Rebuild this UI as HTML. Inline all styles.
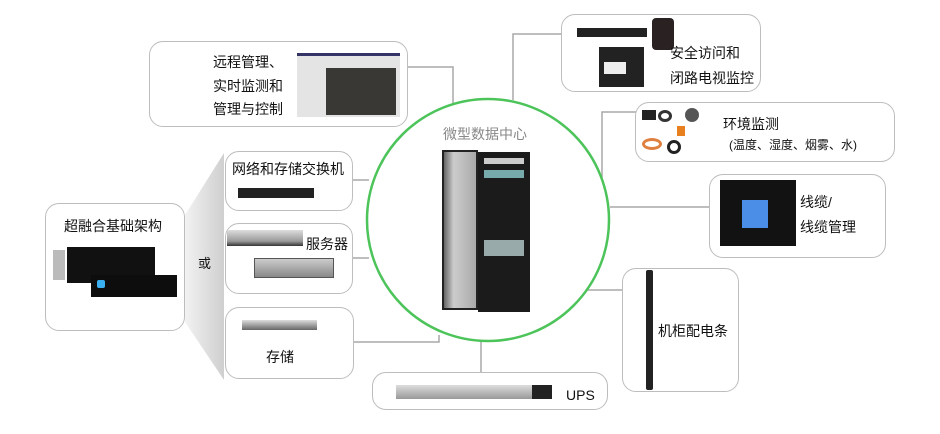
<!DOCTYPE html>
<html><head><meta charset="utf-8"><style>
*{margin:0;padding:0;box-sizing:border-box}
body{width:940px;height:434px;background:#fff;position:relative;overflow:hidden;font-family:"Liberation Sans","Noto Sans CJK SC",sans-serif;color:#111}
.b{position:absolute;border:1.5px solid #bdbdbd;border-radius:14px;background:#fff}
.t{position:absolute;font-size:14px;white-space:nowrap;line-height:1}
.d{position:absolute}
</style></head><body>
<svg width="940" height="434" style="position:absolute;left:0;top:0">
<defs><linearGradient id="g" x1="0" x2="1"><stop offset="0" stop-color="#f2f2f2"/><stop offset="1" stop-color="#cfcfcf"/></linearGradient></defs>
<polygon points="185,215 224,153 224,380 185,322" fill="url(#g)"/>
<g stroke="#a8a8a8" stroke-width="1.5" fill="none">
<polyline points="408,67 453,67 453,104"/>
<polyline points="561,34 513,34 513,100"/>
<polyline points="636,112 602,112 602,178"/>
<line x1="610" y1="207" x2="709" y2="207"/>
<line x1="585" y1="290" x2="622" y2="290"/>
<line x1="481" y1="340" x2="481" y2="372"/>
<line x1="353" y1="180" x2="369" y2="180"/>
<line x1="353" y1="258" x2="369" y2="258"/>
<polyline points="354,342 439,342 439,335"/>
</g>
<circle cx="488" cy="220" r="121" fill="#fff" stroke="#4cc45a" stroke-width="2.5"/>
</svg>
<div class="t" style="left:443px;top:127px;color:#888;font-size:14px">微型数据中心</div>
<div class="d" style="left:442px;top:150px;width:36px;height:160px;background:linear-gradient(90deg,#666,#ccc 30%,#aaa);border:2px solid #222"></div>
<div class="d" style="left:478px;top:152px;width:52px;height:160px;background:#1b1b1b"></div>
<div class="d" style="left:484px;top:158px;width:40px;height:6px;background:#ccc"></div>
<div class="d" style="left:484px;top:170px;width:40px;height:8px;background:#7aa"></div>
<div class="d" style="left:484px;top:240px;width:40px;height:16px;background:#9aa"></div>

<div class="b" style="left:149px;top:41px;width:259px;height:86px"></div>
<div class="t" style="left:213px;top:55px">远程管理、</div>
<div class="t" style="left:213px;top:79px">实时监测和</div>
<div class="t" style="left:213px;top:102px">管理与控制</div>
<div class="d" style="left:297px;top:53px;width:103px;height:64px;background:#e4e4e4;border-top:3px solid #336"></div>
<div class="d" style="left:326px;top:68px;width:70px;height:47px;background:#3a3835"></div>

<div class="b" style="left:561px;top:14px;width:200px;height:78px"></div>
<div class="d" style="left:577px;top:28px;width:70px;height:9px;background:#222"></div>
<div class="d" style="left:652px;top:18px;width:22px;height:32px;background:#2a2222;border-radius:4px"></div>
<div class="d" style="left:599px;top:47px;width:45px;height:40px;background:#222"></div>
<div class="d" style="left:604px;top:62px;width:22px;height:12px;background:#eee"></div>
<div class="t" style="left:670px;top:46px">安全访问和</div>
<div class="t" style="left:670px;top:71px">闭路电视监控</div>

<div class="b" style="left:635px;top:102px;width:260px;height:60px"></div>
<div class="d" style="left:642px;top:110px;width:14px;height:10px;background:#222"></div>
<div class="d" style="left:658px;top:110px;width:14px;height:12px;border:3px solid #333;border-radius:50%"></div>
<div class="d" style="left:685px;top:108px;width:14px;height:14px;background:#555;border-radius:50%"></div>
<div class="d" style="left:642px;top:138px;width:20px;height:12px;border:3px solid #e08040;border-radius:50%"></div>
<div class="d" style="left:677px;top:126px;width:8px;height:10px;background:#e88020"></div>
<div class="d" style="left:667px;top:140px;width:14px;height:14px;border:3px solid #222;border-radius:50%"></div>
<div class="t" style="left:723px;top:117px">环境监测</div>
<div class="t" style="left:729px;top:139px;font-size:12px">(温度、湿度、烟雾、水)</div>

<div class="b" style="left:709px;top:174px;width:177px;height:84px"></div>
<div class="d" style="left:720px;top:180px;width:76px;height:66px;background:#121212"></div>
<div class="d" style="left:742px;top:200px;width:26px;height:28px;background:#4a8ee8"></div>
<div class="t" style="left:800px;top:195px">线缆/</div>
<div class="t" style="left:800px;top:220px">线缆管理</div>

<div class="b" style="left:622px;top:268px;width:117px;height:124px"></div>
<div class="d" style="left:646px;top:270px;width:7px;height:120px;background:#222;border-radius:2px"></div>
<div class="t" style="left:658px;top:324px">机柜配电条</div>

<div class="b" style="left:372px;top:372px;width:236px;height:38px"></div>
<div class="d" style="left:396px;top:385px;width:156px;height:14px;background:linear-gradient(#ddd,#999);border-right:20px solid #222"></div>
<div class="t" style="left:566px;top:388px">UPS</div>

<div class="b" style="left:45px;top:203px;width:140px;height:128px"></div>
<div class="t" style="left:64px;top:219px">超融合基础架构</div>
<div class="d" style="left:53px;top:250px;width:12px;height:30px;background:#bbb"></div>
<div class="d" style="left:67px;top:247px;width:88px;height:36px;background:#111"></div>
<div class="d" style="left:91px;top:275px;width:86px;height:22px;background:#0d0d0d"></div>
<div class="d" style="left:97px;top:280px;width:8px;height:8px;background:#3ab0f0;border-radius:2px"></div>
<div class="t" style="left:198px;top:257px;font-size:13px">或</div>

<div class="b" style="left:225px;top:151px;width:128px;height:60px"></div>
<div class="t" style="left:232px;top:162px">网络和存储交换机</div>
<div class="d" style="left:238px;top:188px;width:76px;height:10px;background:#222"></div>

<div class="b" style="left:225px;top:223px;width:128px;height:71px"></div>
<div class="d" style="left:227px;top:230px;width:76px;height:16px;background:linear-gradient(#ddd,#999 70%,#333)"></div>
<div class="t" style="left:306px;top:237px">服务器</div>
<div class="d" style="left:254px;top:258px;width:80px;height:20px;background:linear-gradient(#ccc,#888);border:1px solid #555"></div>

<div class="b" style="left:225px;top:307px;width:129px;height:72px"></div>
<div class="d" style="left:242px;top:320px;width:75px;height:10px;background:linear-gradient(#ddd,#666)"></div>
<div class="t" style="left:266px;top:350px">存储</div>
</body></html>
